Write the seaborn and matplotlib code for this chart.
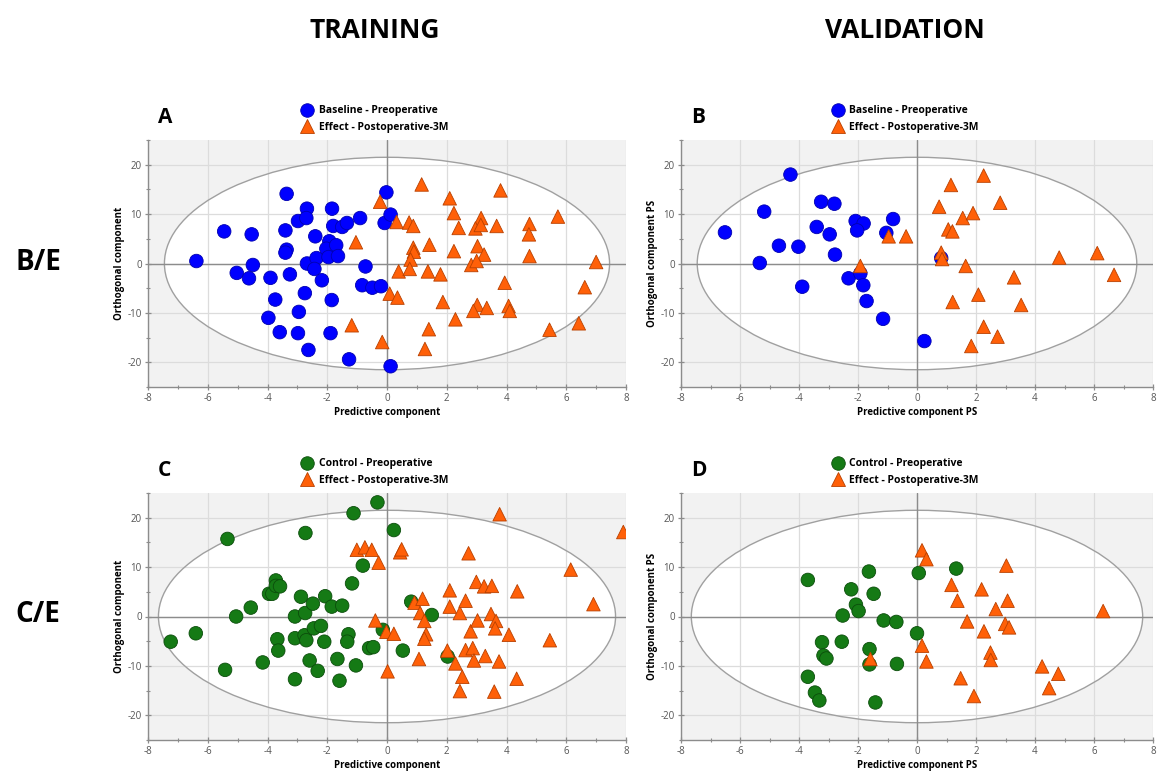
import numpy as np
import pandas as pd
import matplotlib
matplotlib.use("Agg")
import matplotlib.pyplot as plt
from matplotlib.patches import Ellipse
from matplotlib.ticker import MultipleLocator
import seaborn as sns

# ---- data --------------------------------------------------------------
# Panel A: training, baseline vs effect
a_base_x = [-6.38, -5.45, -4.53, -4.49, -5.03, -4.62, -3.90, -3.36, -3.40, -3.36,
            -3.40, -3.25, -3.74, -3.97, -3.59, -2.98, -2.68, -2.70, -2.40, -2.68,
            -2.36, -2.43, -2.18, -2.75, -2.95, -2.98, -2.63, -1.93, -2.03, -1.96,
            -1.70, -1.64, -1.84, -1.80, -1.50, -1.34, -1.85, -1.89, -1.27, -0.90,
            -0.72, -0.83, -0.49, -0.20, -0.08, 0.12, -0.02, 0.12]
a_base_y = [0.5, 6.5, 5.9, -0.3, -1.9, -3.0, -2.9, 14.1, 6.7, 2.8,
            2.2, -2.2, -7.3, -11.0, -13.9, 8.6, 11.1, 9.2, 5.5, 0.0,
            1.1, -1.1, -3.4, -6.0, -9.8, -14.1, -17.5, 4.5, 3.0, 1.3,
            3.7, 1.5, 11.1, 7.6, 7.4, 8.2, -7.4, -14.1, -19.4, 9.2,
            -0.6, -4.4, -4.9, -4.6, 8.2, 9.9, 14.4, -20.8]
a_eff_x = [-0.23, -1.04, -1.18, -0.16, 0.09, 0.35, 0.39, 0.32, 0.74, 0.88,
           0.88, 0.90, 0.79, 0.76, 1.16, 1.42, 1.37, 1.79, 1.87, 1.40,
           1.27, 2.10, 2.24, 2.40, 2.24, 2.29, 3.15, 2.96, 3.14, 3.03,
           3.25, 2.82, 3.00, 3.02, 2.89, 3.34, 3.67, 3.80, 3.94, 4.07,
           4.11, 4.77, 4.75, 4.77, 5.72, 5.44, 6.42, 6.62, 7.00]
a_eff_y = [12.5, 4.3, -12.5, -15.9, -6.1, -6.9, -1.6, 8.4, 8.3, 7.6,
           3.2, 2.4, 0.8, -1.1, 16.0, 3.8, -1.6, -2.2, -7.8, -13.3,
           -17.3, 13.2, 10.2, 7.2, 2.5, -11.3, 9.2, 7.1, 7.8, 3.5,
           1.8, -0.3, 0.5, -8.4, -9.6, -9.0, 7.6, 14.8, -3.9, -8.6,
           -9.6, 8.0, 5.9, 1.5, 9.5, -13.4, -12.1, -4.8, 0.3]

# Panel B: validation, baseline vs effect
b_base_x = [-6.51, -5.18, -5.33, -4.68, -4.02, -3.89, -4.29, -3.40, -3.25, -2.80,
            -2.96, -2.78, -2.32, -2.08, -1.81, -2.03, -1.92, -1.82, -1.71, -1.15,
            -1.04, -0.81, 0.82, 0.25]
b_base_y = [6.3, 10.5, 0.1, 3.6, 3.4, -4.7, 18.0, 7.4, 12.5, 12.1,
            5.9, 1.8, -3.0, 8.6, 8.1, 6.7, -2.0, -4.4, -7.6, -11.2,
            6.2, 9.0, 1.1, -15.7]
b_eff_x = [-0.96, -0.37, -1.92, 0.75, 1.15, 1.06, 1.20, 0.82, 0.85, 1.55,
           1.90, 2.26, 2.82, 1.65, 2.08, 1.21, 2.26, 1.84, 2.73, 3.29,
           3.53, 4.82, 6.11, 6.68]
b_eff_y = [5.5, 5.5, -0.5, 11.5, 15.9, 6.9, 6.5, 2.2, 0.9, 9.2,
           10.2, 17.8, 12.3, -0.5, -6.3, -7.8, -12.8, -16.7, -14.8, -2.8,
           -8.4, 1.2, 2.1, -2.3]

# Panel C: training, control vs effect
c_ctrl_x = [-7.24, -6.40, -5.42, -5.34, -5.05, -4.56, -4.16, -3.95, -3.84, -3.72,
            -3.72, -3.58, -3.67, -3.64, -3.08, -3.08, -3.08, -2.88, -2.74, -2.76,
            -2.70, -2.73, -2.59, -2.48, -2.45, -2.21, -2.32, -2.10, -2.07, -1.85,
            -1.50, -1.66, -1.59, -1.29, -1.33, -1.17, -1.04, -1.12, -0.81, -0.60,
            -0.46, -0.32, -0.14, 0.23, 0.53, 0.81, 1.50, 2.03]
c_ctrl_y = [-5.1, -3.4, -10.8, 15.7, 0.0, 1.8, -9.3, 4.6, 4.6, 7.3,
            6.2, 6.1, -4.6, -6.9, 0.0, -4.4, -12.7, 4.0, 0.7, -3.8,
            -4.8, 16.9, -8.9, 2.6, -2.4, -1.9, -11.0, -5.1, 4.1, 2.0,
            2.2, -8.6, -13.0, -3.6, -5.1, 6.7, -9.9, 20.9, 10.3, -6.4,
            -6.2, 23.1, -2.7, 17.5, -6.9, 3.0, 0.3, -8.1]
c_eff_x = [-1.01, -0.74, -0.51, -0.28, -0.39, -0.02, 0.23, 0.02, 0.44, 0.49,
           0.92, 1.19, 1.11, 1.25, 1.31, 1.25, 1.07, 2.10, 2.10, 2.02,
           2.29, 2.44, 2.63, 2.73, 2.80, 2.63, 2.87, 2.91, 2.52, 2.44,
           2.99, 3.03, 3.25, 3.51, 3.29, 3.48, 3.65, 3.62, 3.75, 3.59,
           3.77, 4.08, 4.36, 4.34, 5.45, 6.15, 6.91, 7.91]
c_eff_y = [13.5, 14.0, 13.5, 10.9, -0.8, -3.1, -3.5, -11.1, 13.0, 13.6,
           2.8, 3.6, 0.7, -0.9, -3.6, -4.5, -8.6, 5.3, 2.0, -6.9,
           -9.5, 0.7, 3.2, 12.8, -3.0, -6.8, -6.4, -8.9, -12.2, -15.1,
           7.0, -0.8, 6.1, 6.2, -8.0, 0.5, -0.9, -2.4, -9.1, -15.2,
           20.7, -3.7, 5.1, -12.6, -4.8, 9.5, 2.5, 17.1]

# Panel D: validation, control vs effect
d_ctrl_x = [-3.70, -3.70, -3.46, -3.31, -3.22, -3.17, -3.07, -2.55, -2.52, -2.23,
            -2.07, -1.98, -1.63, -1.47, -1.61, -1.61, -1.41, -1.13, -0.70, -0.68,
            0.00, 0.06, 1.33]
d_ctrl_y = [7.4, -12.2, -15.4, -17.0, -5.2, -7.9, -8.5, -5.1, 0.2, 5.5,
            2.4, 1.1, 9.1, 4.6, -6.6, -9.7, -17.4, -0.8, -1.1, -9.6,
            -3.4, 8.8, 9.7]
d_eff_x = [-1.58, 0.17, 0.32, 0.17, 0.32, 1.17, 1.37, 1.70, 1.48, 1.93,
           2.19, 2.27, 2.49, 2.50, 2.67, 3.03, 3.07, 2.99, 3.12, 4.24,
           4.48, 4.79, 6.31]
d_eff_y = [-8.6, 13.4, 11.6, -5.9, -9.1, 6.4, 3.2, -1.0, -12.5, -16.1,
           5.5, -3.0, -7.3, -8.8, 1.5, 10.3, 3.2, -1.5, -2.2, -10.1,
           -14.5, -11.6, 1.1]

BASE = "Baseline - Preoperative"
CTRL = "Control - Preoperative"
EFF = "Effect - Postoperative-3M"

# Hotelling T2 ellipse half-widths (x, y)
ell_train_be = (7.45, 21.5)
ell_train_ce = (7.65, 21.5)

EFF_COL, EFF_EDGE = "#ff6008", "#b84000"

sns.set_style("white")
plt.rcParams["font.family"] = ["Open Sans", "DejaVu Sans"]
plt.rcParams["axes.unicode_minus"] = False
plt.rcParams["text.color"] = "black"
plt.rcParams["axes.labelcolor"] = "black"

fig = plt.figure(figsize=(11.59, 7.74), dpi=100)

H = 247 / 774
panels = [
    ("A", 148, 478, 387, a_base_x, a_base_y, a_eff_x, a_eff_y, BASE, "#0000ff", "#0000b0",
     ell_train_be, "Predictive component", "Orthogonal component"),
    ("B", 681, 472, 387, b_base_x, b_base_y, b_eff_x, b_eff_y, BASE, "#0000ff", "#0000b0",
     ell_train_be, "Predictive component PS", "Orthogonal component PS"),
    ("C", 148, 478, 740, c_ctrl_x, c_ctrl_y, c_eff_x, c_eff_y, CTRL, "#157a15", "#0b4d0b",
     ell_train_ce, "Predictive component", "Orthogonal component"),
    ("D", 681, 472, 740, d_ctrl_x, d_ctrl_y, d_eff_x, d_eff_y, CTRL, "#157a15", "#0b4d0b",
     ell_train_ce, "Predictive component PS", "Orthogonal component PS"),
]

for (letter, left_px, width_px, bottom_px, gx, gy, ex, ey, gname, gcol, gedge,
     ell, xlab, ylab) in panels:
    ax = fig.add_axes([left_px / 1159, 1 - bottom_px / 774, width_px / 1159, H])
    ax.set_facecolor("#f2f2f2")
    ax.set_axisbelow(True)

    ax.add_patch(Ellipse((0, 0), 2 * ell[0], 2 * ell[1], facecolor="white",
                         edgecolor="none", zorder=0.1))
    ax.add_patch(Ellipse((0, 0), 2 * ell[0], 2 * ell[1], facecolor="none",
                         edgecolor="#a0a0a0", lw=1.0, zorder=1))
    ax.grid(True, color="#dcdcdc", lw=0.9)
    ax.axhline(0, color="#8c8c8c", lw=1.0, zorder=1)
    ax.axvline(0, color="#8c8c8c", lw=1.0, zorder=1)

    df = pd.DataFrame({
        "x": gx + ex,
        "y": gy + ey,
        "group": [gname] * len(gx) + [EFF] * len(ex),
    })
    sns.scatterplot(data=df, x="x", y="y", hue="group", style="group",
                    palette={gname: gcol, EFF: EFF_COL},
                    markers={gname: "o", EFF: "^"},
                    s=95, linewidth=0.6, ax=ax, zorder=3)
    edges = {gname: gedge, EFF: EFF_EDGE}
    ax.collections[-1].set_edgecolor([edges[g] for g in df["group"]])

    ax.set_xlim(-8, 8)
    ax.set_ylim(-25, 25)
    ax.xaxis.set_major_locator(MultipleLocator(2))
    ax.xaxis.set_minor_locator(MultipleLocator(1))
    ax.yaxis.set_major_locator(MultipleLocator(10))
    ax.yaxis.set_minor_locator(MultipleLocator(5))
    ax.tick_params(which="major", direction="inout", length=5, width=0.9,
                   color="#8c8c8c", labelsize=7, labelcolor="#555555", pad=2,
                   bottom=True, left=True)
    ax.tick_params(which="minor", direction="inout", length=3, width=0.8,
                   color="#8c8c8c", bottom=True, left=True)
    for side in ("top", "right"):
        ax.spines[side].set_visible(False)
    for side in ("left", "bottom"):
        ax.spines[side].set_color("#8c8c8c")
        ax.spines[side].set_linewidth(1.0)

    ax.set_xlabel(xlab, fontsize=7, fontweight="bold", labelpad=2)
    ax.set_ylabel(ylab, fontsize=7, fontweight="bold", labelpad=2)

    leg = ax.legend(loc="lower center", bbox_to_anchor=(0.47, 1.005), frameon=False,
                    fontsize=7.5, handletextpad=0.1, labelspacing=0.5,
                    borderaxespad=0.2)
    for t in leg.get_texts():
        t.set_fontweight("bold")
    for h, t in zip(leg.legend_handles, leg.get_texts()):
        h.set_markeredgecolor(edges[t.get_text()])

    ax.text(10 / width_px, 1 + 12 / 247, letter, transform=ax.transAxes, fontsize=15,
            fontweight="bold", ha="left", va="bottom")

fig.text(375 / 1159, 1 - 30 / 774, "TRAINING", fontsize=19, fontweight="bold",
         ha="center", va="center")
fig.text(905 / 1159, 1 - 30 / 774, "VALIDATION", fontsize=19, fontweight="bold",
         ha="center", va="center")
fig.text(38 / 1159, 1 - 263 / 774, "B/E", fontsize=20, fontweight="bold",
         ha="center", va="center")
fig.text(38 / 1159, 1 - 614 / 774, "C/E", fontsize=20, fontweight="bold",
         ha="center", va="center")

fig.savefig("out.png", dpi=100)
